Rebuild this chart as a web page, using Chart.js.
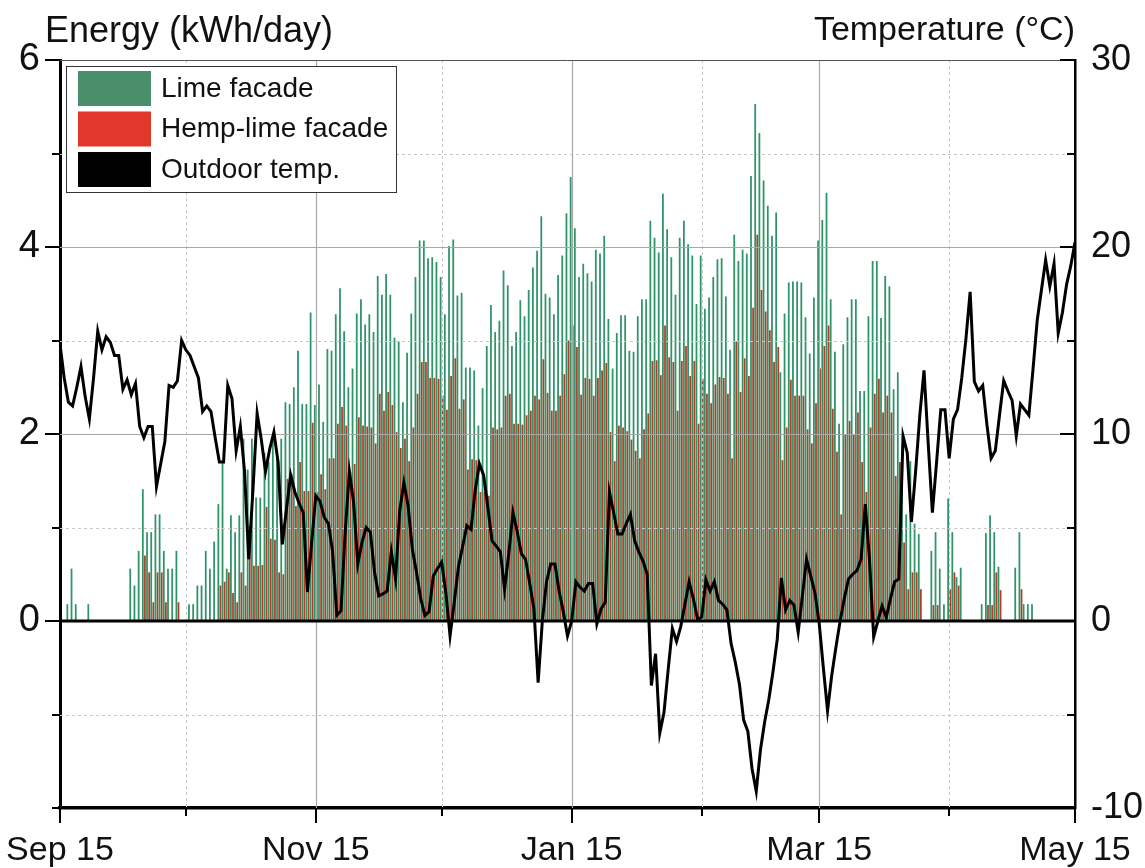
<!DOCTYPE html>
<html>
<head>
<meta charset="utf-8">
<script src="https://cdn.jsdelivr.net/npm/chart.js@4.4.0/dist/chart.umd.min.js"></script>
<style>
  body { margin: 0; background: #fff; }
</style>
</head>
<body>
<canvas id="energyChart" width="1145" height="868"></canvas>
<script>
// daily values, Sep 15 (day 0) to May 15 (day 242)
const lime = [
  0, 0, 0.18, 0.56, 0.18, 0, 0, 0.18, 0, 0,
  0, 0, 0, 0, 0, 0, 0, 0.56, 0.38, 0.75,
  1.41, 0.95, 0.95, 1.14, 1.14, 0.75, 0.56, 0.56, 0.75, 0,
  0, 0.18, 0.18, 0.38, 0.38, 0.75, 0.56, 0.85, 1.25, 1.70,
  0.56, 1.13, 0.95, 1.13, 1.95, 1.62, 1.95, 1.32, 1.32, 1.80,
  1.70, 1.95, 1.80, 1.95, 2.34, 2.32, 2.50, 2.89, 2.32, 2.32,
  3.30, 2.31, 2.53, 2.13, 2.91, 2.89, 3.28, 3.56, 3.10, 2.50,
  2.70, 3.29, 3.44, 3.17, 3.28, 3.09, 3.69, 3.49, 3.71, 3.49,
  3.03, 2.99, 2.34, 2.87, 3.29, 3.68, 4.07, 4.07, 3.88, 3.89,
  3.84, 3.68, 3.28, 4.01, 4.08, 3.48, 3.51, 2.71, 2.71, 2.68,
  2.09, 2.49, 2.94, 3.38, 3.09, 3.21, 3.75, 3.59, 2.94, 3.09,
  3.43, 3.26, 3.54, 3.78, 3.96, 4.33, 3.50, 3.46, 3.28, 3.70,
  3.91, 4.36, 4.75, 4.20, 3.68, 3.82, 3.72, 3.63, 3.97, 3.93,
  4.12, 3.23, 2.70, 3.08, 3.27, 3.27, 2.89, 2.88, 3.26, 3.44,
  3.44, 4.28, 4.10, 3.94, 4.57, 4.19, 3.89, 3.49, 4.10, 4.28,
  4.03, 3.91, 3.39, 3.91, 3.34, 3.46, 3.68, 3.87, 3.88, 3.47,
  2.90, 4.13, 3.85, 3.97, 3.93, 4.76, 5.53, 5.22, 4.71, 4.44,
  4.12, 4.37, 2.66, 3.29, 3.62, 3.63, 3.63, 3.62, 3.25, 2.86,
  3.46, 4.07, 4.29, 4.58, 3.44, 2.88, 2.11, 2.96, 3.25, 3.44,
  3.44, 2.46, 2.46, 3.26, 3.85, 3.85, 3.24, 3.69, 3.58, 2.48,
  2.66, 1.73, 1.14, 1.71, 1.04, 0.93, 0, 0, 0.75, 0.95,
  0.56, 0.18, 1.31, 0.95, 0.47, 0.57, 0, 0, 0, 0,
  0.18, 0.94, 1.13, 0.95, 0.58, 0, 0, 0, 0.57, 0.95,
  0.18, 0.18, 0.18, 0, 0, 0, 0, 0, 0, 0,
  0, 0, 0
];

const hempLime = [
  0, 0, 0, 0, 0, 0, 0, 0, 0, 0,
  0, 0, 0, 0, 0, 0, 0, 0, 0, 0,
  0.70, 0.52, 0.20, 0.52, 0.52, 0.20, 0, 0, 0.20, 0,
  0, 0, 0, 0, 0, 0, 0, 0, 0.38, 0.42,
  0.52, 0.30, 0.20, 0.52, 0.38, 1.02, 0.59, 0.59, 0.60, 1.22,
  0.88, 0.87, 0.52, 0.50, 1.52, 1.57, 1.23, 1.70, 1.39, 1.39,
  2.12, 1.38, 1.57, 1.41, 1.74, 1.74, 2.11, 2.29, 2.09, 1.59,
  1.68, 2.18, 2.09, 2.08, 2.07, 1.90, 2.43, 2.25, 2.45, 2.31,
  2.02, 1.85, 1.95, 1.71, 2.07, 2.43, 2.77, 2.77, 2.60, 2.60,
  2.59, 2.41, 2.26, 2.62, 2.81, 2.27, 2.37, 1.62, 1.73, 1.72,
  1.38, 1.38, 1.34, 2.07, 2.05, 2.07, 2.41, 2.43, 2.11, 2.11,
  2.10, 2.20, 2.25, 2.41, 2.37, 2.80, 2.44, 2.25, 2.25, 2.41,
  2.64, 3.00, 3.16, 2.93, 2.42, 2.60, 2.59, 2.41, 2.60, 2.68,
  2.76, 2.02, 1.71, 2.09, 2.07, 2.03, 1.94, 1.82, 1.74, 2.05,
  2.22, 2.78, 2.79, 2.63, 3.16, 2.82, 2.77, 2.25, 2.78, 2.94,
  2.62, 2.78, 2.11, 2.59, 2.43, 2.33, 2.53, 2.61, 2.60, 2.43,
  1.74, 2.99, 2.45, 2.81, 2.62, 3.35, 4.13, 3.54, 3.31, 3.11,
  2.77, 2.93, 1.72, 2.07, 2.58, 2.41, 2.41, 2.41, 2.05, 1.90,
  2.33, 2.70, 2.94, 3.16, 2.27, 1.81, 1.14, 2.00, 2.14, 2.00,
  2.23, 1.70, 1.38, 2.07, 2.43, 2.59, 2.23, 2.41, 2.23, 1.55,
  1.70, 0.84, 0.34, 0.52, 0.52, 0.34, 0, 0, 0.17, 0.17,
  0, 0, 0.34, 0.52, 0.38, 0, 0, 0, 0, 0,
  0, 0.17, 0.17, 0.52, 0.33, 0, 0, 0, 0, 0.34,
  0, 0, 0, 0, 0, 0, 0, 0, 0, 0,
  0, 0, 0
];

const outdoorTemp = [
  14.8, 13.0, 11.7, 11.5, 12.5, 13.6, 12.0, 10.8, 13.0, 15.5,
  14.5, 15.2, 14.9, 14.2, 14.2, 12.4, 12.9, 12.1, 12.7, 10.4,
  9.8, 10.4, 10.4, 7.2, 8.4, 9.6, 12.6, 12.5, 12.85, 15.0,
  14.5, 14.2, 13.6, 13.0, 11.2, 11.5, 11.2, 9.8, 8.5, 8.5,
  12.6, 11.9, 9.1, 10.4, 8.0, 3.3, 7.0, 11.1, 9.7, 8.0,
  9.2, 10.1, 8.5, 4.1, 6.0, 7.8, 6.9, 6.3, 5.8, 1.55,
  4.2, 6.7, 6.4, 5.55, 5.2, 3.7, 0.3, 0.55, 4.75, 8.0,
  6.35, 3.05, 4.2, 5.0, 4.75, 2.6, 1.35, 1.45, 1.6, 3.7,
  2.25, 5.9, 7.4, 6.15, 3.85, 2.6, 1.2, 0.3, 0.5, 2.4,
  2.8, 3.15, 1.5, -0.8, 1.0, 2.9, 4.0, 5.1, 4.9, 7.0,
  8.4, 7.8, 6.1, 4.3, 4.0, 3.7, 1.7, 3.6, 5.8, 4.8,
  3.6, 3.3, 2.0, 0.65, -3.3, 0.0, 2.1, 3.05, 3.05, 1.6,
  0.5, -0.8, 0.0, 2.1, 1.8, 1.6, 2.0, 2.0, -0.15, 0.65,
  1.0, 6.9, 5.8, 4.65, 4.65, 5.2, 5.7, 4.3, 3.7, 3.2,
  2.5, -3.45, -1.75, -6.0, -4.9, -2.6, -0.4, -1.1, -0.3, 0.9,
  2.1, 1.2, 0.1, 0.2, 2.2, 1.6, 2.1, 1.1, 0.9, 0.6,
  -1.2, -2.2, -3.4, -5.3, -5.9, -7.9, -9.1, -6.9, -5.4, -4.2,
  -2.7, -1.0, 2.3, 0.6, 1.1, 0.85, -0.6, 1.35, 3.3, 2.4,
  1.5, -0.1, -2.5, -4.8, -2.9, -1.4, 0.0, 1.2, 2.25, 2.5,
  2.7, 3.3, 6.25, 3.3, -0.85, 0.0, 0.8, 0.2, 1.2, 2.1,
  2.25, 9.9, 9.0, 5.3, 8.0, 11.0, 13.4, 9.5, 5.8, 8.5,
  11.3, 11.3, 8.7, 10.8, 11.3, 13.0, 15.1, 17.6, 12.8, 12.3,
  12.6, 10.5, 8.7, 9.1, 11.0, 12.85, 12.3, 11.8, 9.9, 11.6,
  11.3, 11.0, 13.5, 16.1, 17.7, 19.3, 17.9, 19.1, 15.4, 16.5,
  18.0, 19.0, 20.25
];

// axes
const tickDays = [0, 61, 122, 181, 242];
const tickLabels = ["Sep 15", "Nov 15", "Jan 15", "Mar 15", "May 15"];
const minorDays = [30, 91, 153, 212];
const energyTicks = [-2, -1, 0, 1, 2, 3, 4, 5, 6];
const energyLabels = [0, 2, 4, 6];
const tempTicks = [-10, -5, 0, 5, 10, 15, 20, 25, 30];
const tempLabels = [-10, 0, 10, 20, 30];

const seriesNames = ["Lime facade", "Hemp-lime facade", "Outdoor temp."];
const legendColors = ["#4a8f6c", "#e0382a", "#000000"];

const FONT = "'Liberation Sans', Arial, sans-serif";

const toPoints = (arr) => arr.map((v, i) => ({ x: i, y: v }));

function hline(ctx, x1, x2, y) {
  ctx.beginPath();
  ctx.moveTo(x1, y);
  ctx.lineTo(x2, y);
  ctx.stroke();
}
function vline(ctx, x, y1, y2) {
  ctx.beginPath();
  ctx.moveTo(x, y1);
  ctx.lineTo(x, y2);
  ctx.stroke();
}

// grid goes on top of the bars but under the temperature line
const gridPlugin = {
  id: "gridOverBars",
  afterDatasetDraw(chart, args) {
    if (args.index !== 0) return;
    const { ctx, chartArea: a } = chart;
    const x = chart.scales.x;
    const y = chart.scales.y;
    ctx.save();

    ctx.strokeStyle = "#c8c8c8";
    ctx.lineWidth = 1;
    ctx.setLineDash([3, 3]);
    minorDays.forEach((d) => {
      const px = Math.round(x.getPixelForValue(d)) + 0.5;
      vline(ctx, px, a.top, a.bottom);
    });
    energyTicks
      .filter((v) => !energyLabels.includes(v) && v > energyTicks[0])
      .forEach((v) => {
        const py = Math.round(y.getPixelForValue(v)) + 0.5;
        hline(ctx, a.left, a.right, py);
      });
    ctx.setLineDash([]);

    ctx.strokeStyle = "#a8a8a8";
    ctx.lineWidth = 1.2;
    tickDays.slice(1, -1).forEach((d) => {
      const px = Math.round(x.getPixelForValue(d)) + 0.5;
      vline(ctx, px, a.top, a.bottom);
    });
    [2, 4].forEach((v) => {
      hline(ctx, a.left, a.right, Math.round(y.getPixelForValue(v)) + 0.5);
    });

    // top frame
    ctx.strokeStyle = "#555";
    ctx.lineWidth = 1;
    hline(ctx, a.left, a.right, a.top + 0.5);

    // zero line
    ctx.strokeStyle = "#000";
    ctx.lineWidth = 3;
    hline(ctx, a.left, a.right, Math.round(y.getPixelForValue(0)));

    ctx.restore();
  },
};

// tick marks, axis titles and the legend box
const decorPlugin = {
  id: "decor",
  afterDraw(chart) {
    const { ctx, chartArea: a } = chart;
    const x = chart.scales.x;
    const y = chart.scales.y;
    const y2 = chart.scales.y2;
    ctx.save();
    ctx.strokeStyle = "#000";
    ctx.lineWidth = 2;

    energyTicks.forEach((v) => {
      const py = Math.round(y.getPixelForValue(v));
      const len = energyLabels.includes(v) ? 15 : 8;
      hline(ctx, a.left - len, a.left, py);
    });
    tempTicks.forEach((v) => {
      const py = Math.round(y2.getPixelForValue(v));
      const len = tempLabels.includes(v) ? 15 : 8;
      hline(ctx, a.right - len, a.right, py);
    });
    tickDays.forEach((d) => {
      vline(ctx, Math.round(x.getPixelForValue(d)), a.bottom, a.bottom + 15);
    });
    minorDays.forEach((d) => {
      vline(ctx, Math.round(x.getPixelForValue(d)), a.bottom, a.bottom + 8);
    });

    // axis titles
    ctx.fillStyle = "#111";
    ctx.textBaseline = "alphabetic";
    ctx.font = "36px " + FONT;
    ctx.textAlign = "left";
    ctx.fillText("Energy (kWh/day)", 45, 42);
    ctx.font = "34px " + FONT;
    ctx.textAlign = "right";
    ctx.fillText("Temperature (\u00B0C)", a.right, 40);

    // legend
    ctx.fillStyle = "#fff";
    ctx.fillRect(66, 66, 330, 126);
    ctx.strokeStyle = "#333";
    ctx.lineWidth = 1;
    ctx.strokeRect(66.5, 66.5, 330, 126);
    ctx.font = "28px " + FONT;
    ctx.textAlign = "left";
    ctx.textBaseline = "middle";
    seriesNames.forEach((name, i) => {
      const top = 71 + i * 40.5;
      ctx.fillStyle = legendColors[i];
      ctx.fillRect(78, top, 73, 35);
      ctx.fillStyle = "#111";
      ctx.fillText(name, 161, top + 18);
    });

    ctx.restore();
  },
};

const ctx = document.getElementById("energyChart").getContext("2d");

new Chart(ctx, {
  type: "bar",
  data: {
    datasets: [
      {
        type: "bar",
        label: seriesNames[0],
        data: toPoints(lime),
        backgroundColor: "#2f9468",
        xAxisID: "x",
        yAxisID: "y",
        categoryPercentage: 1.0,
        barPercentage: 0.85,
        order: 1,
      },
      {
        type: "bar",
        label: seriesNames[1],
        data: toPoints(hempLime),
        backgroundColor: "#b43d27",
        xAxisID: "x",
        yAxisID: "y",
        categoryPercentage: 1.0,
        barPercentage: 0.85,
        order: 2,
      },
      {
        type: "line",
        label: seriesNames[2],
        data: toPoints(outdoorTemp),
        borderColor: "#000",
        borderWidth: 3,
        pointRadius: 0,
        tension: 0,
        xAxisID: "x",
        yAxisID: "y2",
        order: 0,
      },
    ],
  },
  options: {
    responsive: false,
    animation: false,
    events: [],
    layout: { padding: { top: 60, left: 0, right: 0, bottom: 0 } },
    plugins: {
      legend: { display: false },
      tooltip: { enabled: false },
    },
    scales: {
      x: {
        type: "linear",
        min: 0,
        max: 242,
        offset: false,
        afterBuildTicks: (scale) => {
          scale.ticks = tickDays.map((d) => ({ value: d }));
        },
        afterFit: (scale) => {
          scale.height = 60;
          scale.paddingLeft = 0;
          scale.paddingRight = 0;
        },
        grid: { display: false, drawTicks: false, offset: false },
        border: { display: true, color: "#000", width: 3.5 },
        ticks: {
          autoSkip: false,
          maxRotation: 0,
          padding: 22,
          color: "#111",
          font: { size: 34, family: FONT },
          callback: (value) => {
            const i = tickDays.indexOf(value);
            return i >= 0 ? tickLabels[i] : "";
          },
        },
      },
      y: {
        position: "left",
        min: -2,
        max: 6,
        afterBuildTicks: (scale) => {
          scale.ticks = energyTicks.map((v) => ({ value: v }));
        },
        afterFit: (scale) => {
          scale.width = 60;
          scale.paddingTop = 0;
          scale.paddingBottom = 0;
        },
        grid: { display: false, drawTicks: false },
        border: { display: true, color: "#000", width: 3 },
        ticks: {
          autoSkip: false,
          padding: 20,
          color: "#111",
          font: { size: 38, family: FONT },
          callback: (value) => (energyLabels.includes(value) ? String(value) : ""),
        },
      },
      y2: {
        position: "right",
        min: -10,
        max: 30,
        afterBuildTicks: (scale) => {
          scale.ticks = tempTicks.map((v) => ({ value: v }));
        },
        afterFit: (scale) => {
          scale.width = 70;
          scale.paddingTop = 0;
          scale.paddingBottom = 0;
        },
        grid: { display: false, drawTicks: false },
        border: { display: true, color: "#000", width: 2.5 },
        ticks: {
          autoSkip: false,
          padding: 16,
          color: "#111",
          font: { size: 36, family: FONT },
          callback: (value) => (tempLabels.includes(value) ? String(value) : ""),
        },
      },
    },
  },
  plugins: [gridPlugin, decorPlugin],
});
</script>
</body>
</html>
